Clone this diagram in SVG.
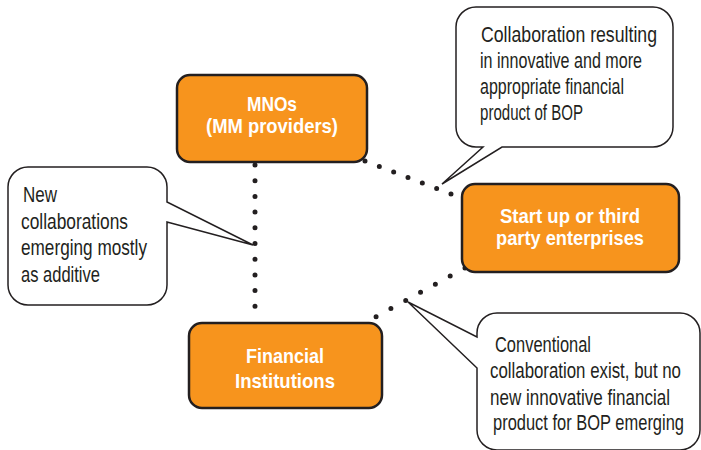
<svg xmlns="http://www.w3.org/2000/svg" width="701" height="450" viewBox="0 0 701 450">
<style>
.box{fill:#F7941D;stroke:#231F20;stroke-width:2.5}
.bt{fill:#fff;font-family:"Liberation Sans Narrow","Liberation Sans",Arial,sans-serif;font-weight:bold;font-size:21px;text-anchor:middle}
.call{fill:#fff;stroke:#231F20;stroke-width:1.5;stroke-linejoin:miter}
.ct{fill:#231F20;font-family:"Liberation Sans Narrow","Liberation Sans",Arial,sans-serif;font-size:22px}
.dot{stroke:#231F20;stroke-width:5;stroke-linecap:round;fill:none}
</style>
<rect width="701" height="450" fill="#fff"/>
<g id="connectors">
<line class="dot" x1="255" y1="165" x2="255" y2="322" stroke-dasharray="0 15.7"/>
<line class="dot" x1="365" y1="161" x2="451" y2="194" stroke-dasharray="0 15.35"/>
<line class="dot" x1="465" y1="268" x2="361" y2="325" stroke-dasharray="0 16.9"/>
</g>
<g id="mnos">
<rect class="box" x="177" y="75" width="190" height="87" rx="13"/>
<text class="bt" x="272" y="111" textLength="50" lengthAdjust="spacingAndGlyphs">MNOs</text>
<text class="bt" x="272" y="133" textLength="132" lengthAdjust="spacingAndGlyphs">(MM providers)</text>
</g>
<g id="startup">
<rect class="box" x="462" y="184" width="217" height="88" rx="13"/>
<text class="bt" x="570" y="223" textLength="140" lengthAdjust="spacingAndGlyphs">Start up or third</text>
<text class="bt" x="570" y="245" textLength="148" lengthAdjust="spacingAndGlyphs">party enterprises</text>
</g>
<g id="financial">
<rect class="box" x="189" y="323" width="193" height="85" rx="13"/>
<text class="bt" x="285" y="363" textLength="78" lengthAdjust="spacingAndGlyphs">Financial</text>
<text class="bt" x="285" y="388" textLength="100" lengthAdjust="spacingAndGlyphs">Institutions</text>
</g>
<g id="callout-top">
<path class="call" d="M476,7 H653 A20,20 0 0 1 673,27 V127 A20,20 0 0 1 653,147 H502 L442,184 L483,147 H476 A20,20 0 0 1 456,127 V27 A20,20 0 0 1 476,7 Z"/>
<text class="ct" x="481" y="42" textLength="176" lengthAdjust="spacingAndGlyphs">Collaboration resulting</text>
<text class="ct" x="480" y="68" textLength="162" lengthAdjust="spacingAndGlyphs">in innovative and more</text>
<text class="ct" x="480" y="94" textLength="144" lengthAdjust="spacingAndGlyphs">appropriate financial</text>
<text class="ct" x="480" y="120" textLength="103" lengthAdjust="spacingAndGlyphs">product of BOP</text>
</g>
<g id="callout-left">
<path class="call" d="M28,167 H147 A20,20 0 0 1 167,187 V202 L253,245 L167,222 V285 A20,20 0 0 1 147,305 H28 A20,20 0 0 1 8,285 V187 A20,20 0 0 1 28,167 Z"/>
<text class="ct" x="23" y="202" textLength="34" lengthAdjust="spacingAndGlyphs">New</text>
<text class="ct" x="21" y="229" textLength="107" lengthAdjust="spacingAndGlyphs">collaborations</text>
<text class="ct" x="21" y="255" textLength="126" lengthAdjust="spacingAndGlyphs">emerging mostly</text>
<text class="ct" x="21" y="282" textLength="79" lengthAdjust="spacingAndGlyphs">as additive</text>
</g>
<g id="callout-bottom">
<path class="call" d="M497,313 H680 A20,20 0 0 1 700,333 V430 A20,20 0 0 1 680,450 H497 A20,20 0 0 1 477,430 V368 L408,302 L477,337 V333 A20,20 0 0 1 497,313 Z"/>
<g transform="matrix(0.77,0,0,1,0,0)">
<text class="ct" x="642.86" y="352" textLength="124.68" lengthAdjust="spacingAndGlyphs">Conventional</text>
<text class="ct" x="636.36" y="378" textLength="248.05" lengthAdjust="spacingAndGlyphs">collaboration exist, but no</text>
<text class="ct" x="636.36" y="405" textLength="233.77" lengthAdjust="spacingAndGlyphs">new innovative financial</text>
<text class="ct" x="640.26" y="430" textLength="248.05" lengthAdjust="spacingAndGlyphs">product for BOP emerging</text>
</g>
</g>
</svg>
